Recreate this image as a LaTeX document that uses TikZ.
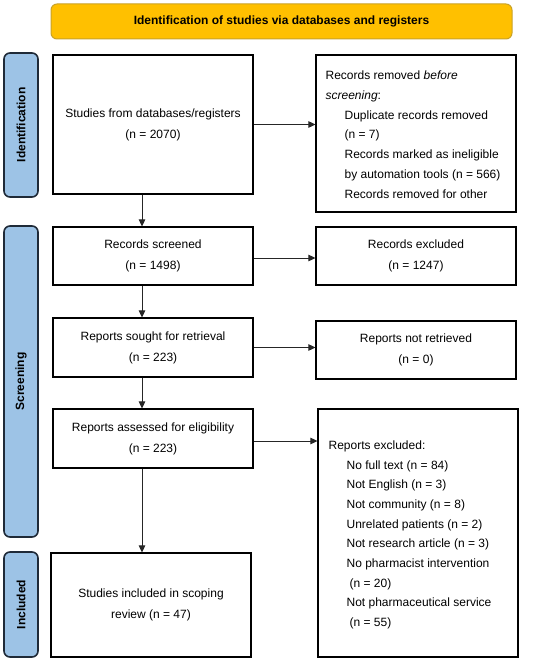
\documentclass[tikz,border=0pt]{standalone}
\usepackage{fontspec}
\setmainfont{Liberation Sans}
\usetikzlibrary{arrows.meta}
\definecolor{hdrfill}{HTML}{FFC000}
\definecolor{hdrline}{HTML}{C9A227}
\definecolor{sidefill}{HTML}{9DC3E6}
\definecolor{sideline}{HTML}{1F2A38}
\tikzset{
  box/.style={draw=black, line width=1.1pt, fill=white, inner sep=0pt, align=center,
    font=\fontsize{12}{21}\selectfont},
  hdr/.style={draw=hdrline, line width=1pt, fill=hdrfill, rounded corners=6pt,
    minimum width=461pt, minimum height=35pt, inner sep=0pt, font=\bfseries\fontsize{12}{14}\selectfont},
  side/.style={draw=sideline, line width=1.6pt, fill=sidefill, rounded corners=6pt,
    minimum width=34pt, inner sep=0pt, font=\bfseries\fontsize{12}{14}\selectfont},
  sidetxt/.style={rotate=90, inner sep=0pt, font=\bfseries\fontsize{12}{14}\selectfont},
  txt/.style={inner sep=0pt, align=left, anchor=north west, font=\fontsize{12}{19.7}\selectfont},
  arr/.style={draw=black!85, line width=0.8pt, -{Triangle[length=7pt,width=6.5pt]}}
}
\begin{document}
\begin{tikzpicture}[x=1pt,y=-1pt]
\useasboundingbox (0,0) rectangle (550,661);
% header
\node[hdr] (hd) at (281.5,21.5) {Identification of studies via databases and registers};
% side bars
\node[side, minimum height=144pt] (s1) at (21,125) {};
\node[sidetxt] (s1t) at (s1.center) {Identification};
\node[side, minimum height=311pt] (s2) at (21,381.5) {};
\node[sidetxt] (s2t) at (s2.center) {Screening};
\node[side, minimum height=105pt] (s3) at (21,604.5) {};
\node[sidetxt] (s3t) at (s3.center) {Included};
% left boxes
\node[box, minimum width=200pt, minimum height=139pt] (b1) at (153,124.5) {Studies from databases/registers\\(n = 2070)};
\node[box, minimum width=200pt, minimum height=58pt] (b2) at (153,256) {Records screened\\(n = 1498)};
\node[box, minimum width=200pt, minimum height=59pt] (b3) at (153,347.5) {Reports sought for retrieval\\(n = 223)};
\node[box, minimum width=200pt, minimum height=59pt] (b4) at (153,438.5) {Reports assessed for eligibility\\(n = 223)};
\node[box, minimum width=200pt, minimum height=104pt] (b5) at (151,605) {Studies included in scoping\\review (n = 47)};
% right boxes
\node[box, minimum width=200pt, minimum height=157pt] (r1) at (416,133.5) {};
\node[txt] (r1t) at ([xshift=10pt,yshift=-16.5pt]r1.north west) {Records removed \textit{before}\\
\textit{screening}:\\
\hspace*{19pt}Duplicate records removed\\
\hspace*{19pt}(n = 7)\\
\hspace*{19pt}Records marked as ineligible\\
\hspace*{19pt}by automation tools (n = 566)\\
\hspace*{19pt}Records removed for other};
\node[box, minimum width=200pt, minimum height=58pt] (r2) at (416,256) {Records excluded\\(n = 1247)};
\node[box, minimum width=200pt, minimum height=58pt] (r3) at (416,350) {Reports not retrieved\\(n = 0)};
\node[box, minimum width=200pt, minimum height=248pt] (r4) at (418,533) {};
\node[txt] (r4t) at ([xshift=11pt,yshift=-32pt]r4.north west) {Reports excluded:\\
\hspace*{18pt}No full text (n = 84)\\
\hspace*{18pt}Not English (n = 3)\\
\hspace*{18pt}Not community (n = 8)\\
\hspace*{18pt}Unrelated patients (n = 2)\\
\hspace*{18pt}Not research article (n = 3)\\
\hspace*{18pt}No pharmacist intervention\\
\hspace*{21pt}(n = 20)\\
\hspace*{18pt}Not pharmaceutical service\\
\hspace*{21pt}(n = 55)};
% horizontal arrows
\draw[arr] (b1.east) -- (b1.east -| r1.west);
\draw[arr] ([yshift=-2pt]b2.east) -- ([yshift=-2pt]b2.east -| r2.west);
\draw[arr] (b3.east) -- (b3.east -| r3.west);
\draw[arr] ([yshift=-2.5pt]b4.east) -- ([yshift=-2.5pt]b4.east -| r4.west);
% vertical arrows
\coordinate (vx) at (142,0);
\draw[arr] (b1.south -| vx) -- (b2.north -| vx);
\draw[arr] (b2.south -| vx) -- (b3.north -| vx);
\draw[arr] (b3.south -| vx) -- (b4.north -| vx);
\draw[arr] (b4.south -| vx) -- (b5.north -| vx);
\end{tikzpicture}
\end{document}
